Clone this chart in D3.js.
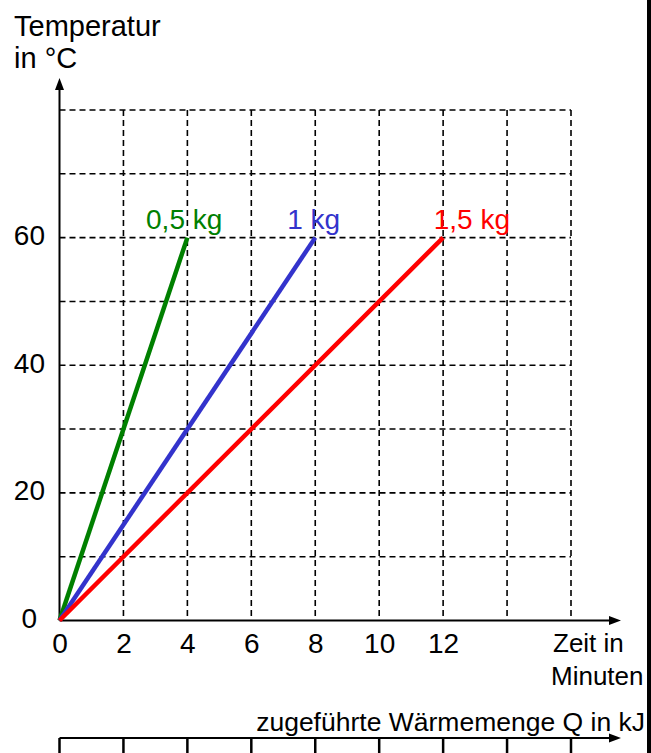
<!DOCTYPE html>
<html>
<head>
  <meta charset="utf-8">
  <title>Temperatur</title>
  <script src="https://d3js.org/d3.v7.min.js"></script>
  <style>
    body { margin: 0; background: #fff; }
    svg { display: block; font-family: "Liberation Sans", Arial, sans-serif; }
  </style>
</head>
<body>
  <script>
    // Daten
    var masses = ["0,5 kg", "1 kg", "1,5 kg"];
    var colors = ["#008000", "#3333cc", "#ff0000"];
    var endTime = [4, 8, 12];       // Minuten bis 60 °C
    var endTemp = [60, 60, 60];
    var labelX = [3.9, 7.95, 12.9]; // Beschriftung (Zeit-Einheiten)
    var xTicks = [0, 2, 4, 6, 8, 10, 12];
    var xGrid = [2, 4, 6, 8, 10, 12, 14, 16];
    var yTicks = [0, 20, 40, 60];
    var yGrid = [10, 20, 30, 40, 50, 60, 70, 80];
    var qTicks = [0, 2, 4, 6, 8, 10, 12, 14, 16];

    var W = 651, H = 753;
    var svg = d3.select("body").append("svg")
      .attr("width", W)
      .attr("height", H);

    var x = d3.scaleLinear().domain([0, 16]).range([59.5, 571]);
    var y = d3.scaleLinear().domain([0, 80]).range([620.5, 110]);

    // Raster
    var grid = svg.append("g")
      .attr("stroke", "#000")
      .attr("stroke-width", 1.6)
      .attr("stroke-dasharray", "6,4");
    grid.selectAll(".h").data(yGrid).enter().append("line")
      .attr("x1", x(0)).attr("x2", x(16))
      .attr("y1", function(d) { return y(d); })
      .attr("y2", function(d) { return y(d); });
    grid.selectAll(".v").data(xGrid).enter().append("line")
      .attr("y1", y(80)).attr("y2", y(0))
      .attr("x1", function(d) { return x(d); })
      .attr("x2", function(d) { return x(d); });

    // Achsen mit Pfeilen
    function arrow(x1, y1, x2, y2) {
      svg.append("line")
        .attr("x1", x1).attr("y1", y1).attr("x2", x2).attr("y2", y2)
        .attr("stroke", "#000").attr("stroke-width", 2);
    }
    var yTip = 78, xTip = 621;
    arrow(x(0), y(0), x(0), yTip + 8);
    svg.append("path")
      .attr("d", "M" + x(0) + "," + yTip + "L" + (x(0) - 4.5) + "," + (yTip + 12) + "L" + (x(0) + 4.5) + "," + (yTip + 12) + "Z")
      .attr("fill", "#000");
    arrow(x(0), y(0), xTip - 8, y(0));
    svg.append("path")
      .attr("d", "M" + xTip + "," + y(0) + "L" + (xTip - 12) + "," + (y(0) - 4.5) + "L" + (xTip - 12) + "," + (y(0) + 4.5) + "Z")
      .attr("fill", "#000");

    // Y-Achse Beschriftung
    var yAxis = svg.append("g")
      .attr("transform", "translate(" + 45 + ",0)")
      .call(d3.axisLeft(y).tickValues(yTicks).tickSize(0).tickPadding(0));
    yAxis.select(".domain").remove();
    yAxis.selectAll("text")
      .attr("font-size", 28)
      .attr("font-family", "Liberation Sans, Arial, sans-serif")
      .attr("fill", "#000")
      .attr("dy", 7)
      .attr("dx", function(d) { return d === 0 ? -8 : 0; });

    // X-Achse Beschriftung
    var xAxis = svg.append("g")
      .attr("transform", "translate(0," + 653 + ")")
      .call(d3.axisBottom(x).tickValues(xTicks).tickSize(0).tickPadding(0));
    xAxis.select(".domain").remove();
    xAxis.selectAll("text")
      .attr("font-size", 28)
      .attr("font-family", "Liberation Sans, Arial, sans-serif")
      .attr("fill", "#000")
      .attr("y", 0)
      .attr("dy", 0);

    // Linien
    var series = masses.map(function(m, i) {
      return { label: m, color: colors[i], pts: [[0, 0], [endTime[i], endTemp[i]]], lx: labelX[i] };
    });
    var line = d3.line()
      .x(function(d) { return x(d[0]); })
      .y(function(d) { return y(d[1]); });
    svg.selectAll(".serie").data(series).enter().append("path")
      .attr("d", function(d) { return line(d.pts); })
      .attr("fill", "none")
      .attr("stroke", function(d) { return d.color; })
      .attr("stroke-width", 4.5);
    svg.selectAll(".lab").data(series).enter().append("text")
      .attr("x", function(d) { return x(d.lx); })
      .attr("y", y(60) - 9)
      .attr("text-anchor", "middle")
      .attr("font-size", 28)
      .attr("fill", function(d) { return d.color; })
      .text(function(d) { return d.label; });

    // Titel
    svg.append("text").attr("x", 14).attr("y", 36).attr("font-size", 29).text("Temperatur");
    svg.append("text").attr("x", 14).attr("y", 68).attr("font-size", 29).text("in °C");
    svg.append("text").attr("x", 553).attr("y", 652).attr("font-size", 26).text("Zeit in");
    svg.append("text").attr("x", 551).attr("y", 685).attr("font-size", 26).text("Minuten");
    svg.append("text").attr("x", 645).attr("y", 731).attr("text-anchor", "end")
      .attr("font-size", 26.5).text("zugeführte Wärmemenge Q in kJ");

    // zweite Achse (Wärmemenge)
    var qy = 738;
    arrow(x(0), qy, xTip - 8, qy);
    svg.append("path")
      .attr("d", "M" + xTip + "," + qy + "L" + (xTip - 12) + "," + (qy - 4.5) + "L" + (xTip - 12) + "," + (qy + 4.5) + "Z")
      .attr("fill", "#000");
    svg.append("g").selectAll("line").data(qTicks).enter().append("line")
      .attr("x1", function(d) { return x(d); })
      .attr("x2", function(d) { return x(d); })
      .attr("y1", qy).attr("y2", H)
      .attr("stroke", "#000").attr("stroke-width", 2.5);

    // schwarzer Rand rechts
    svg.append("rect").attr("x", 647).attr("y", 0).attr("width", 4).attr("height", H).attr("fill", "#000");
  </script>
</body>
</html>
